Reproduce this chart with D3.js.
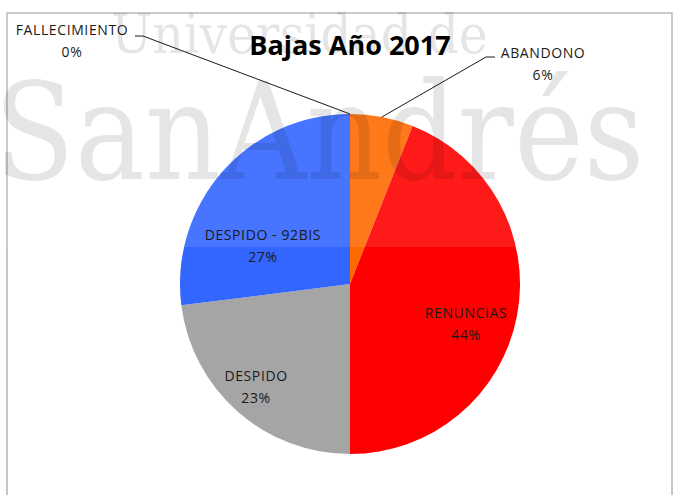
<!DOCTYPE html>
<html>
<head>
<meta charset="utf-8">
<script src="https://cdn.jsdelivr.net/npm/d3@7"></script>
<style>
  html, body { margin: 0; padding: 0; background: #fff; }
  svg { display: block; }
</style>
</head>
<body>
<svg id="chart" width="682" height="495"></svg>
<script>
// Bajas 2017: share of staff departures by cause (%)
const categories = ["ABANDONO", "RENUNCIAS", "DESPIDO", "DESPIDO - 92BIS", "FALLECIMIENTO"];
const shares = [6, 44, 23, 27, 0];
const shareLabels = ["6%", "44%", "23%", "27%", "0%"];
const title = "Bajas Año 2017";

// Presentation
const sliceColors = ["#ff6a00", "#ff0000", "#a5a5a5", "#3366ff", "#7f7f7f"];
const W = 682, H = 495;
const cx = 350, cy = 284, R = 170;
const labelFont = "'Open Sans', 'DejaVu Sans', sans-serif";
const markFont = "'DejaVu Serif', 'Liberation Serif', serif";

// inside labels: polar spot (degrees clockwise from 12 o'clock, fraction of radius)
const insideSpots = {
  "RENUNCIAS": { deg: 106.3, r: 0.711 },
  "DESPIDO": { deg: 224.1, r: 0.794 },
  "DESPIDO - 92BIS": { deg: 296.8, r: 0.574 }
};
// outside labels: text anchor and the elbow of its leader line
const outsideSpots = {
  "ABANDONO": { x: 543, y: 58, elbow: [[495, 57], [486, 57]] },
  "FALLECIMIENTO": { x: 72, y: 35, elbow: [[135, 36], [143, 36]] }
};

const data = categories.map((c, i) => ({ cat: c, value: shares[i], label: shareLabels[i], color: sliceColors[i] }));

const svg = d3.select("#chart");

// chart frame
svg.append("rect")
  .attr("x", 7).attr("y", 13)
  .attr("width", 665).attr("height", 520)
  .attr("fill", "#fff")
  .attr("stroke", "#b4b4b4")
  .attr("stroke-width", 1.5);

const pie = d3.pie().sort(null).value(d => d.value).startAngle(0).endAngle(2 * Math.PI);
const arcs = pie(data);
const arc = d3.arc().innerRadius(0).outerRadius(R);

const g = svg.append("g").attr("transform", `translate(${cx},${cy})`);
g.selectAll("path.slice")
  .data(arcs.filter(d => d.value > 0))
  .join("path")
  .attr("class", "slice")
  .attr("d", arc)
  .attr("fill", d => d.data.color);

// university watermark band
const wm = svg.append("g").attr("pointer-events", "none");
wm.append("rect")
  .attr("x", 0).attr("y", 0).attr("width", W).attr("height", 247)
  .attr("fill", "#fff").attr("fill-opacity", 0.1);
wm.append("text")
  .attr("transform", "translate(111,53) scale(0.89,1)")
  .attr("font-family", markFont)
  .attr("font-size", 55)
  .attr("fill", "#000").attr("fill-opacity", 0.1)
  .text("Universidad de");
wm.append("text")
  .attr("transform", "translate(-6,179) scale(0.88,1)")
  .attr("font-family", markFont)
  .attr("font-size", 134)
  .attr("fill", "#000").attr("fill-opacity", 0.1)
  .text("SanAndrés");

// title
svg.append("text")
  .attr("x", cx).attr("y", 55)
  .attr("text-anchor", "middle")
  .attr("font-family", labelFont)
  .attr("font-weight", "bold")
  .attr("font-size", 27)
  .attr("fill", "#000")
  .text(title);

// leader lines for the small slices
const lines = svg.append("g");
arcs.forEach(d => {
  const spot = outsideSpots[d.data.cat];
  if (!spot) return;
  const a = d.value > 0 ? (d.startAngle + d.endAngle) / 2 : d.startAngle;
  const edge = [cx + R * Math.sin(a), cy - R * Math.cos(a)];
  lines.append("polyline")
    .attr("points", [spot.elbow[0], spot.elbow[1], edge].map(p => p.join(",")).join(" "))
    .attr("fill", "none")
    .attr("stroke", "#1a1a1a")
    .attr("stroke-width", 1);
});

// data labels
const labels = svg.append("g")
  .attr("font-family", labelFont)
  .attr("font-size", 14)
  .attr("letter-spacing", 0.6)
  .attr("fill", "#1a1a1a")
  .attr("text-anchor", "middle");

arcs.forEach(d => {
  let x, y;
  if (insideSpots[d.data.cat]) {
    const s = insideSpots[d.data.cat];
    const a = s.deg * Math.PI / 180;
    x = cx + s.r * R * Math.sin(a);
    y = cy - s.r * R * Math.cos(a);
  } else {
    x = outsideSpots[d.data.cat].x;
    y = outsideSpots[d.data.cat].y;
  }
  const t = labels.append("text").attr("x", x).attr("y", y);
  t.append("tspan").attr("x", x).attr("dy", 0).text(d.data.cat);
  t.append("tspan").attr("x", x).attr("dy", 22).text(d.data.label);
});
</script>
</body>
</html>
